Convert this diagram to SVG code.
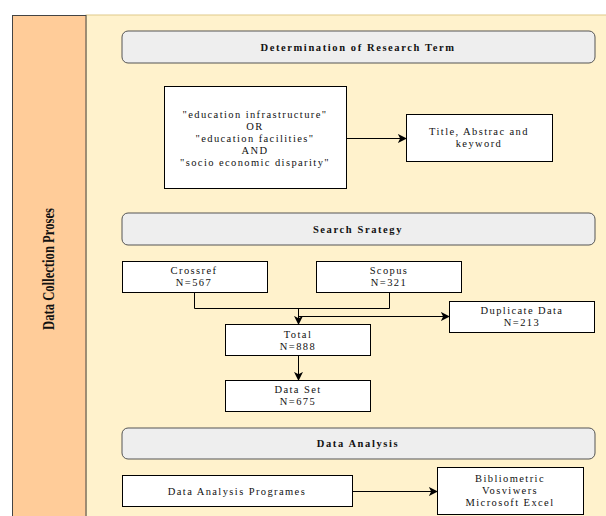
<svg xmlns="http://www.w3.org/2000/svg" width="606" height="516" viewBox="0 0 606 516">
<style>
.hdr{fill:#eeeeee;stroke:#555555;stroke-width:1}
.box{fill:#ffffff;stroke:#000000;stroke-width:1}
.t{font-family:"Liberation Serif","Times New Roman",serif;font-size:10.5px;fill:#111111;text-anchor:middle;letter-spacing:1.4px}
.h{font-family:"Liberation Serif","Times New Roman",serif;font-size:10.5px;font-weight:bold;fill:#111111;text-anchor:middle;letter-spacing:1.6px}
.c{fill:none;stroke:#000000;stroke-width:1}
</style>
<defs>
<marker id="arr" viewBox="0 0 10 10" refX="9" refY="5" markerWidth="9" markerHeight="9" markerUnits="userSpaceOnUse" orient="auto">
<path d="M0,0 L10,5 L0,10 L2.5,5 Z" fill="#000000"/>
</marker>
</defs>
<rect x="0" y="0" width="606" height="516" fill="#ffffff"/>
<g id="pool">
<rect x="86" y="15" width="522" height="505" fill="#fff2cc" stroke="#e0c98a" stroke-width="1"/>
<rect x="12.5" y="15.5" width="73.5" height="505" fill="#ffcc99" stroke="#444444" stroke-width="1"/>
<text transform="translate(49,269) rotate(-90)" font-family="'Liberation Serif','Times New Roman',serif" font-size="16" font-weight="bold" fill="#111111" text-anchor="middle" textLength="122" lengthAdjust="spacingAndGlyphs" dy="5">Data Collection Proses</text>
</g>
<g id="header1">
<rect class="hdr" x="122" y="31" width="473" height="32" rx="6"/>
<text class="h" x="358" y="51">Determination of Research Term</text>
</g>
<g id="query">
<rect class="box" x="164.5" y="86.5" width="182" height="102"/>
<text class="t" x="255" y="118">"education infrastructure"</text>
<text class="t" x="255" y="130">OR</text>
<text class="t" x="255" y="142">"education facilities"</text>
<text class="t" x="255" y="154">AND</text>
<text class="t" x="255" y="166">"socio economic disparity"</text>
</g>
<g id="title">
<rect class="box" x="406.5" y="114.5" width="146" height="47"/>
<text class="t" x="479" y="135">Title, Abstrac and</text>
<text class="t" x="479" y="147">keyword</text>
</g>
<g id="header2">
<rect class="hdr" x="122" y="213" width="473" height="32" rx="6"/>
<text class="h" x="358" y="233">Search Srategy</text>
</g>
<g id="crossref">
<rect class="box" x="122.5" y="261.5" width="145" height="31"/>
<text class="t" x="194" y="274">Crossref</text>
<text class="t" x="194" y="286">N=567</text>
</g>
<g id="scopus">
<rect class="box" x="316.5" y="261.5" width="145" height="31"/>
<text class="t" x="389" y="274">Scopus</text>
<text class="t" x="389" y="286">N=321</text>
</g>
<g id="duplicate">
<rect class="box" x="449.5" y="301.5" width="145" height="31"/>
<text class="t" x="522" y="314">Duplicate Data</text>
<text class="t" x="522" y="326">N=213</text>
</g>
<g id="total">
<rect class="box" x="225.5" y="324.5" width="145" height="31"/>
<text class="t" x="298" y="338">Total</text>
<text class="t" x="298" y="350">N=888</text>
</g>
<g id="dataset">
<rect class="box" x="225.5" y="380.5" width="145" height="31"/>
<text class="t" x="298" y="393">Data Set</text>
<text class="t" x="298" y="405">N=675</text>
</g>
<g id="header3">
<rect class="hdr" x="122" y="428" width="473" height="31" rx="6"/>
<text class="h" x="358" y="447">Data Analysis</text>
</g>
<g id="programs">
<rect class="box" x="122.5" y="475.5" width="230" height="31"/>
<text class="t" x="237" y="495">Data Analysis Programes</text>
</g>
<g id="tools">
<rect class="box" x="437.5" y="467.5" width="146" height="47"/>
<text class="t" x="510" y="482">Bibliometric</text>
<text class="t" x="510" y="494">Vosviwers</text>
<text class="t" x="510" y="506">Microsoft Excel</text>
</g>
<g id="connectors">
<path class="c" d="M346.5,138.5 L406,138.5" marker-end="url(#arr)"/>
<path class="c" d="M194.5,292.5 L194.5,308.5 L389.5,308.5 L389.5,292.5"/>
<path class="c" d="M298.5,308.5 L298.5,324" marker-end="url(#arr)"/>
<path class="c" d="M298.5,316.5 L449,316.5" marker-end="url(#arr)"/>
<path class="c" d="M298.5,355.5 L298.5,380" marker-end="url(#arr)"/>
<path class="c" d="M352.5,491.5 L437,491.5" marker-end="url(#arr)"/>
</g>
</svg>
